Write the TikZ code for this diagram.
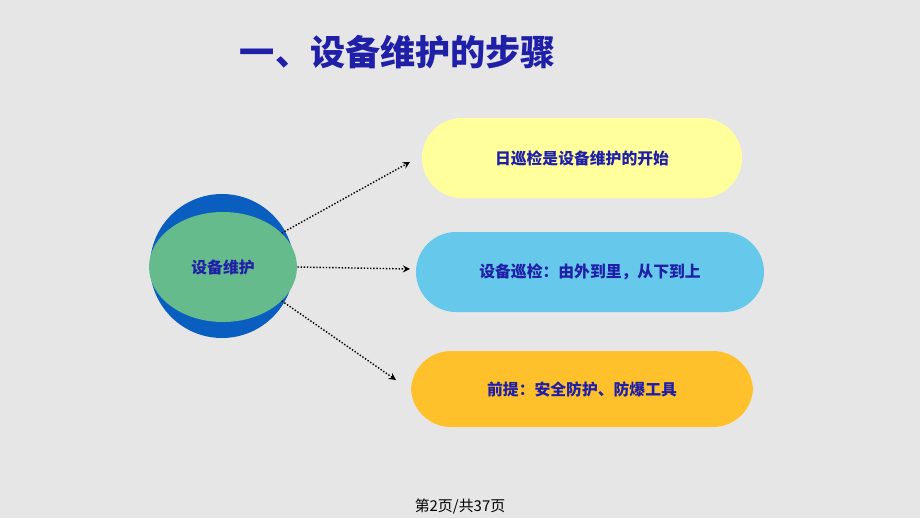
\documentclass[tikz,border=0pt]{standalone}
\usepackage{fontspec}
\newfontfamily\cjk{Noto Sans CJK SC}
\usetikzlibrary{shapes.geometric}
\definecolor{bgGray}{HTML}{E7E6E6}
\definecolor{titleBlue}{HTML}{1F1FA8}
\definecolor{ringBlue}{HTML}{0A5EC0}
\definecolor{eyeGreen}{HTML}{66BB8C}
\definecolor{pillYellow}{HTML}{FFFF9C}
\definecolor{pillCyan}{HTML}{66C8EA}
\definecolor{pillOrange}{HTML}{FFC12B}
\tikzset{
  pill/.style={draw=none, rounded corners=40*0.02cm, minimum height=80*0.02cm,
    font=\cjk\bfseries\fontsize{9}{11}\selectfont, text=titleBlue},
  dotarrow/.style={densely dotted, thick, -stealth}
}
\begin{document}
\begin{tikzpicture}[x=0.02cm,y=-0.02cm]
	\fill[bgGray] (0,0) rectangle (920,518);
	\useasboundingbox (0,0) rectangle (920,518);

	% title
	\node[font=\cjk\bfseries\fontsize{20}{24}\selectfont, text=titleBlue] (title) at (398,52) {一、设备维护的步骤};

	% central disc
	\fill[ringBlue] (222,266) circle [radius=72];
	\node[ellipse, fill=eyeGreen, minimum width=148*0.02cm, minimum height=110*0.02cm,
		font=\cjk\bfseries\fontsize{9}{11}\selectfont, text=titleBlue] (core) at (223,267) {设备维护};

	% the three steps
	\node[pill, fill=pillYellow, minimum width=320*0.02cm] (daily) at (582,158) {日巡检是设备维护的开始};
	\node[pill, fill=pillCyan, minimum width=348*0.02cm] (patrol) at (590,272) {设备巡检：由外到里，从下到上};
	\node[pill, fill=pillOrange, minimum width=342*0.02cm, minimum height=76*0.02cm] (safety) at (582,389) {前提：安全防护、防爆工具};

	\coordinate (aEnd) at (410,162);
	\coordinate (bEnd) at (410,269);
	\coordinate (cEnd) at (396,380);
	\draw[dotarrow] (core.30) -- (aEnd);
	\draw[dotarrow] (core.east) -- (bEnd);
	\draw[dotarrow] (core.-30) -- (cEnd);

	% footer
	\node[font=\cjk\fontsize{8.5}{10}\selectfont] (pageNo) at (460,507) {第2页/共37页};
\end{tikzpicture}
\end{document}
